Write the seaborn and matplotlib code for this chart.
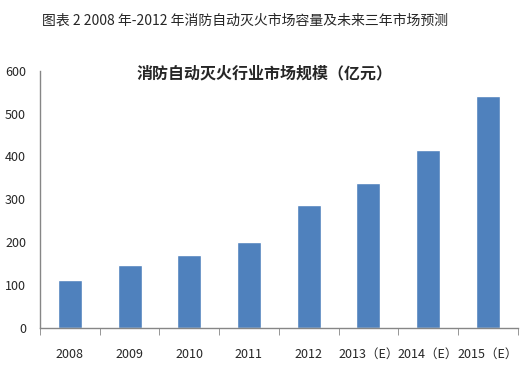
import matplotlib
matplotlib.use('Agg')
import matplotlib.pyplot as plt
import seaborn as sns
import pandas as pd

# Market size of automatic fire extinguishing industry (100 million yuan)
years = ['2008', '2009', '2010', '2011', '2012', '2013（E）', '2014（E）', '2015（E）']
market_size = [112, 147, 170, 200, 287, 338, 416, 540]

df = pd.DataFrame({'Year': years, 'Size': market_size})

sns.set_style('white')
plt.rcParams['font.family'] = ['Noto Sans CJK SC', 'DejaVu Sans']

fig = plt.figure(figsize=(5.29, 3.78), dpi=100)
ax = fig.add_axes([0.0756, 0.132, 0.903, 0.681])

sns.barplot(data=df, x='Year', y='Size', color='#4F81BD', width=0.4,
            saturation=1, ax=ax)

ax.set_ylim(0, 600)
ax.set_xlim(-0.5, 7.5)
ax.set_yticks(range(0, 601, 100))
ax.set_xlabel('')
ax.set_ylabel('')

for side in ['top', 'right']:
    ax.spines[side].set_visible(False)
for side in ['left', 'bottom']:
    ax.spines[side].set_color('#868686')
    ax.spines[side].set_linewidth(1)

ax.set_xticks([i - 0.5 for i in range(9)], minor=True)
ax.tick_params(axis='x', which='minor', length=5, color='#868686', direction='out', bottom=True)
ax.tick_params(axis='x', which='major', length=0, pad=14, labelsize=9)
ax.tick_params(axis='y', length=0, pad=10, labelsize=9)

# chart title sits inside the plot area
fig.text(0.501, 1 - 73 / 378, '消防自动灭火行业市场规模（亿元）',
         fontsize=11.5, fontweight='bold', ha='center', va='center')

fig.text(0.079, 0.945, '图表 2 2008 年-2012 年消防自动灭火市场容量及未来三年市场预测',
         fontsize=10, ha='left', va='center')

plt.savefig('out.png', dpi=100)
plt.close()
